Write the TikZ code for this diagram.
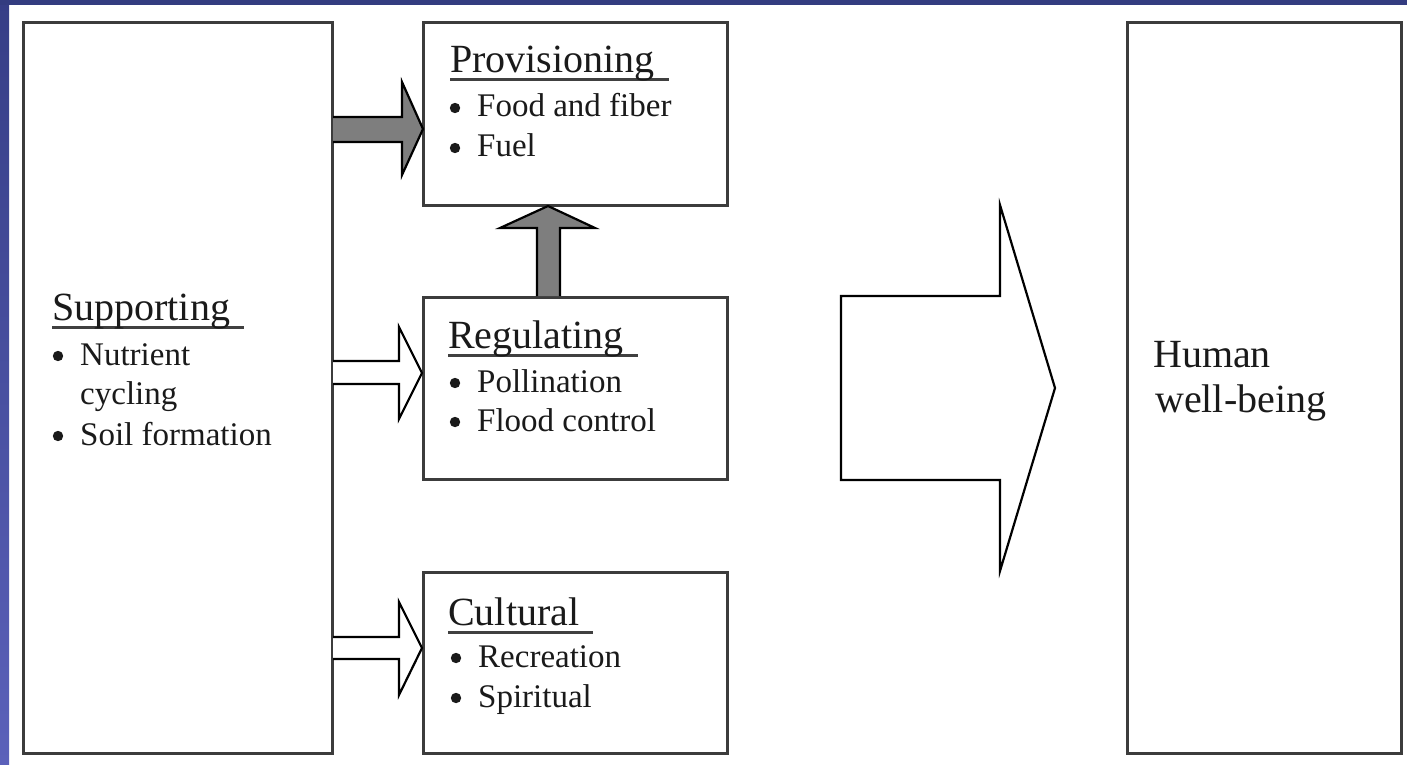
\documentclass[tikz,border=0pt]{standalone}
\usepackage{fontspec}
\setmainfont{Liberation Serif}
\definecolor{bluetop}{HTML}{333C80}
\definecolor{blueleftA}{HTML}{363E86}
\definecolor{blueleftB}{HTML}{5B61BA}
\definecolor{boxline}{HTML}{3C3C3C}
\definecolor{txt}{HTML}{1A1A1A}
\definecolor{ulgray}{HTML}{404040}
\definecolor{arrowgray}{HTML}{7E7E7E}
\newcommand\ulhead[1]{\setbox0\hbox{#1\hspace{14pt}}\rlap{\color{ulgray}\rule[-8.5pt]{\wd0}{3pt}}#1}
\begin{document}
\begin{tikzpicture}[x=1pt,y=-1pt,
  panel/.style={draw=boxline,line width=3pt,fill=white},
  headtxt/.style={anchor=base west,inner sep=0pt,text=txt,font=\fontsize{40}{44}\selectfont},
  itemtxt/.style={anchor=base west,inner sep=0pt,text=txt,font=\fontsize{33}{38}\selectfont},
  solidarrow/.style={draw=black,line width=2.2pt,fill=arrowgray,line join=miter},
  hollowarrow/.style={draw=black,line width=2.2pt,fill=white,line join=miter},
  bulletdot/.style={fill=txt}
]
\useasboundingbox (0,0) rectangle (1407,765);
% background
\fill[white] (0,0) rectangle (1407,765);
\shade[top color=blueleftA,bottom color=blueleftB] (0,0) rectangle (9,765);
\fill[bluetop] (0,0) rectangle (1407,5);

% boxes
\draw[panel] (23,23) rectangle (332,753);
\draw[panel] (423,23) rectangle (727,205);
\draw[panel] (423,297) rectangle (727,479);
\draw[panel] (423,572) rectangle (727,753);
\draw[panel] (1127,23) rectangle (1401,753);

% arrows
\draw[solidarrow] (333,117) -- (402,117) -- (402,82) -- (423,129) -- (402,175) -- (402,142) -- (333,142);
\draw[solidarrow] (537,296) -- (537,228) -- (500,228) -- (548,206) -- (595,228) -- (560,228) -- (560,296);
\draw[hollowarrow] (333,361) -- (399,361) -- (399,327) -- (422,373) -- (399,419) -- (399,384) -- (333,384);
\draw[hollowarrow] (333,637) -- (399,637) -- (399,602) -- (422,648) -- (399,695) -- (399,659) -- (333,659);
\draw[hollowarrow] (841,296) -- (1000,296) -- (1000,205) -- (1055,388) -- (1000,571) -- (1000,480) -- (841,480) -- cycle;

% supporting
\node[headtxt] (suppH) at (52,320) {\ulhead{Supporting}};
\node[itemtxt] (supp1) at (80,365) {Nutrient};
\node[itemtxt] (supp1b) at (80,404) {cycling};
\node[itemtxt] (supp2) at (80,445) {Soil formation};

% provisioning
\node[headtxt] (provH) at (450,73) {\ulhead{Provisioning}};
\node[itemtxt] (prov1) at (477,117) {Food and fiber};
\node[itemtxt] (prov2) at (477,157) {Fuel};

% regulating
\node[headtxt] (regH) at (448,348) {\ulhead{Regulating}};
\node[itemtxt] (reg1) at (477,392) {Pollination};
\node[itemtxt] (reg2) at (477,431) {Flood control};

% cultural
\node[headtxt] (cultH) at (448,625) {\ulhead{Cultural}};
\node[itemtxt] (cult1) at (478,667) {Recreation};
\node[itemtxt] (cult2) at (478,707) {Spiritual};

% bullets
\foreach \n in {supp1,supp2,prov1,prov2,reg1,reg2,cult1,cult2}
  \fill[bulletdot] (\n.base west) ++(-22,-9) circle (5.2);

% human well-being
\node[headtxt] (hum1) at (1153,367) {Human};
\node[headtxt] (hum2) at (1155,412) {well-being};
\end{tikzpicture}
\end{document}
